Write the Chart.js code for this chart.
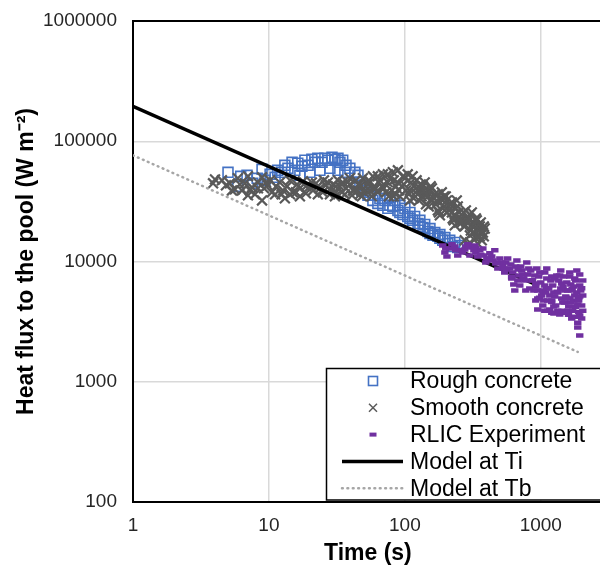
<!DOCTYPE html>
<html lang="en">
<head>
<meta charset="UTF-8">
<title>Heat flux to the pool</title>
<script src="https://cdn.jsdelivr.net/npm/chart.js"></script>
<style>
  html, body { margin: 0; padding: 0; background: #fff; overflow: hidden; }
  #wrap { width: 600px; height: 567px; overflow: hidden; }
</style>
</head>
<body>
<div id="wrap"><canvas id="fluxChart" width="612" height="567"></canvas></div>
<script>
  // tick values
  const xTicks = [1, 10, 100, 1000];
  const yTicks = [100, 1000, 10000, 100000, 1000000];

  // Rough concrete (time s, heat flux W m-2)
  const roughT = [5.0, 5.9, 6.2, 6.9, 7.6, 8.2, 8.9, 9.35, 10.2, 11.1, 11.6, 12.4, 13.1, 13.8, 14.8, 15.5, 16.3, 17.5, 18.4, 19.4,
    20.7, 21.8, 22.9, 24.6, 25.8, 27.1, 29.1, 30.6, 32.2, 33.3, 34.9, 36.9, 39.4, 42.9, 45.2, 46.7, 50.8, 50.8, 55.3, 60.2,
    65.5, 71.3, 77.6, 84.4, 91.9, 100, 109, 118, 129, 140, 153, 166, 181, 197, 214, 233, 254, 16.9, 20.0, 23.7,
    28.1, 32.2, 36.2, 77.6, 91.9, 109, 129, 153, 181,
    48.3, 53.5, 58.2, 63.3, 68.9, 75.0, 81.6, 88.9, 96.7, 105, 114, 125, 136, 148, 161, 175, 190, 207, 225, 245];
  const roughQ = [55200, 42200, 51100, 52100, 44700, 49200, 58400, 47300, 53100, 50100, 57300, 55200, 63100, 59600, 66800, 57300, 65600, 61900, 69500, 63100,
    70800, 66800, 72100, 66800, 72100, 69500, 73600, 70800, 72100, 66800, 69500, 63100, 59600, 55200, 52100, 45500, 43000, 40600, 37600, 35500,
    33500, 32200, 34100, 32200, 29300, 27700, 25600, 23700, 22000, 20300, 18800, 17400, 16800, 15800, 15000, 14400, 13600, 52100, 55200, 57300,
    59600, 57300, 55200, 29300, 25600, 22800, 19600, 17100, 15600,
    39000, 35500, 32200, 30400, 29300, 27700, 28700, 26600, 24600, 23700, 22000, 20700, 19200, 17800, 16500, 16200, 15000, 14100, 13300, 13100];

  // Smooth concrete
  const smoothT = [3.88, 4.01, 4.51, 4.83, 5.17, 5.62, 5.9, 6.33, 6.66, 7.01, 7.01, 7.5, 7.89, 8.3, 8.9, 8.9, 9.2, 9.8, 10.2, 10.5,
    11.3, 12.0, 12.7, 13.1, 13.6, 14.3, 15.0, 16.1, 16.9, 17.8, 18.7, 20.0, 21.1, 22.2, 23.7, 24.9, 26.2, 28.1, 29.6, 31.1,
    33.3, 34.9, 36.9, 39.4, 41.5, 43.6, 46.7, 49.1, 51.7, 55.3, 58.2, 61.2, 65.5, 68.9, 72.5, 77.6, 81.6, 85.9, 88.9, 91.9,
    96.7, 102, 105, 111, 116, 122, 129, 136, 143, 150, 158, 166, 175, 184, 194, 204, 214, 225, 237, 250,
    262, 276, 290, 306, 322, 338, 356, 368, 375, 84.4, 109, 140, 181, 233, 301, 344, 276,
    40.8, 45.1, 48.3, 53.5, 57.2, 63.3, 67.7, 75.0, 80.2, 88.9, 95.1, 100, 109, 114, 125, 133, 140, 148, 158, 169,
    175, 190, 200, 211, 222, 233, 245, 258, 272, 286, 301, 316, 333, 350, 362, 333, 301, 381, 381, 16.9,
    22.9, 30.6, 36.2, 14.3, 11.1, 18.7, 27.1, 32.2, 39.4,
    20.7, 22.9, 25.4, 28.1, 31.1, 34.4, 38.1, 42.2, 45.9, 50.0, 54.4, 59.1, 64.4, 70.1, 76.3, 83.0, 90.3, 98.4, 107, 116,
    127, 138, 150, 163, 178, 194, 211, 229, 250, 272, 296, 322, 350, 368, 5.35, 6.12, 7.25, 8.3, 9.5, 12.4,
    15.8,
    120, 131, 145, 155, 172, 187, 204, 222, 241, 262, 281, 311, 338, 356, 387, 83.0, 75.0, 63.3, 55.3, 46.7];
  const smoothQ = [44700, 48200, 47300, 43000, 44700, 39800, 49200, 39000, 44700, 51100, 35500, 41400, 36200, 45500, 50100, 32200, 40600, 43000, 47300, 37600,
    42200, 45500, 39000, 33500, 42200, 47300, 37600, 43800, 40600, 46400, 36900, 42200, 39000, 44700, 40600, 37600, 43000, 39800, 43800, 37600,
    42200, 45500, 40600, 43800, 39000, 47300, 42200, 49200, 39000, 45500, 51100, 40600, 47300, 53100, 37600, 49200, 55200, 42200, 57300, 34800,
    51100, 39000, 53100, 45500, 33500, 47300, 37600, 42200, 29900, 39000, 32200, 36200, 26600, 33500, 28700, 25600, 29900, 22800, 27700, 21100,
    24600, 19600, 22800, 18100, 21100, 16200, 19600, 15000, 17400, 36900, 32200, 35500, 24200, 20000, 16500, 14100, 15000,
    35500, 39000, 34800, 43800, 34800, 37600, 42200, 45500, 39000, 45500, 42200, 49200, 39000, 51100, 42200, 34800, 45500, 34800, 40600, 29900,
    36200, 32200, 34800, 26600, 31000, 24600, 28700, 22800, 25600, 21100, 24600, 19600, 22800, 18100, 21100, 15600, 14400, 16200, 19600, 34800,
    36200, 34800, 36200, 36200, 36200, 42200, 45500, 47300, 49200,
    45500, 42200, 47300, 36200, 42200, 37600, 45500, 39000, 43800, 37600, 47300, 40600, 45500, 40600, 34800, 47300, 39000, 43800, 36200, 42200,
    32200, 39000, 28700, 33500, 25600, 34800, 28700, 22000, 25600, 19600, 22800, 17400, 20300, 16800, 39000, 43800, 39000, 40600, 45500, 36200,
    37600,
    37600, 43800, 36200, 42200, 32200, 37600, 32200, 25600, 32200, 21100, 26600, 25600, 22000, 16200, 18800, 34800, 53100, 51100, 39000, 36200];

  // RLIC Experiment
  const rlicT = [190, 197, 214, 233, 254, 276, 290, 311, 333, 356, 381, 401, 422, 444, 467, 500, 526, 553, 592, 622,
    655, 689, 724, 763, 802, 830, 789, 644, 701, 903, 950, 1000, 1052, 1107, 1165, 1225, 1288, 1356, 1426, 1502,
    1580, 1663, 1750, 1841, 1935, 2000, 1871, 1690, 1380, 1125, 950, 1165, 1070, 1268, 1502, 1778, 1935, 2037, 1634, 1205,
    1426, 1871, 1935, 934, 1070, 1380, 1634, 1935, 980, 1040, 1100, 1200, 1320, 1460, 1560, 1700, 1800, 1900, 2000, 1250,
    1600, 1900, 870, 920, 560, 610, 740, 680, 420, 330,
    204, 222, 245, 267, 301, 327, 344, 375, 394, 436, 459, 483, 517, 543, 571, 612, 667, 678, 713, 750,
    776, 816, 859, 889, 919, 967, 1016, 1070, 1125, 1186, 1247, 1312, 1334, 1403, 1476, 1527, 1606, 1690, 1718, 1807,
    1901, 1968, 2037, 2037, 1807, 1527, 1247, 1035,
    919, 984, 1035, 1107, 1145, 1205, 1268, 1334, 1403, 1452, 1554, 1634, 1663, 1750, 1841, 1871, 1935, 2000, 1778, 1580,
    1426, 1205, 1089, 950, 200, 237, 281, 322, 362, 415, 475, 534, 602, 633, 737, 844];
  const rlicQ = [13600, 11900, 12800, 13300, 12400, 12600, 13900, 13100, 11900, 12400, 11200, 10600, 11700, 10200, 9630, 10600, 9260, 9810, 8740, 8100,
    9090, 7640, 8410, 6950, 7790, 5960, 9810, 5730, 6310, 7640, 5730, 6680, 4730, 7210, 5210, 6310, 4300, 6950, 4920, 5730,
    3900, 6430, 4730, 5520, 3550, 4300, 3100, 3350, 3620, 3900, 3980, 3980, 3900, 5110, 4550, 7210, 6310, 5210, 4920, 7500,
    6560, 2820, 2420, 8740, 8100, 7640, 7500, 7790, 5000, 5600, 6000, 4600, 5600, 6100, 5000, 5900, 4200, 5000, 6000, 3700,
    3600, 3800, 7000, 6200, 8600, 7400, 7200, 8600, 10400, 12900,
    11000, 13900, 11200, 11900, 11200, 13600, 11000, 12800, 9810, 11000, 12400, 8740, 9810, 8100, 10600, 7210, 10200, 6950, 9090, 7210,
    5730, 8740, 6950, 5730, 4730, 7500, 5210, 6310, 4730, 6950, 5520, 7640, 3900, 5960, 7500, 5110, 4220, 5730, 3900, 6950,
    4730, 5730, 3900, 6950, 3480, 3750, 4220, 4300,
    6560, 8100, 5730, 8740, 5960, 4730, 7210, 5520, 8410, 4550, 6680, 8100, 4550, 6190, 8410, 4380, 5110, 3350, 5210, 5730,
    3900, 3750, 5520, 4920, 12800, 12400, 13300, 12400, 11400, 10600, 9810, 8740, 9440, 6430, 7790, 8410];

  // model lines
  const modelTiT = [1, 880];
  const modelTiQ = [195000, 6570];
  const modelTbT = [1, 1870];
  const modelTbQ = [76400, 1770];

  const pts = (xs, ys) => xs.map((x, i) => ({ x: x, y: ys[i] }));
  const FONT = "'Liberation Sans', Arial, sans-serif";

  const frameAndLegend = {
    id: 'frameAndLegend',
    afterDraw(chart) {
      const { ctx, chartArea: a } = chart;
      ctx.save();
      ctx.strokeStyle = '#000';
      ctx.lineWidth = 2;
      ctx.beginPath();
      ctx.moveTo(a.left - 1, a.top);
      ctx.lineTo(a.right, a.top);
      ctx.stroke();

      // legend box
      const bx = 326.5, by = 368.5;
      ctx.fillStyle = '#fff';
      ctx.fillRect(bx, by, a.right - bx, a.bottom - 2 - by);
      ctx.lineWidth = 1.5;
      ctx.strokeRect(bx, by, a.right - bx, a.bottom - 2 - by);

      const order = [4, 3, 0, 1, 2];
      const mx = 373;
      ctx.font = '23px ' + FONT;
      ctx.textBaseline = 'middle';
      order.forEach((di, row) => {
        const ds = chart.data.datasets[di];
        const y = 381 + row * 26.8;
        ctx.save();
        ctx.strokeStyle = ds.borderColor;
        ctx.fillStyle = ds.borderColor;
        if (ds.pointStyle === 'rect') {
          ctx.lineWidth = 1.6;
          ctx.strokeRect(mx - 4.5, y - 4.5, 9, 9);
        } else if (ds.pointStyle === 'crossRot') {
          ctx.lineWidth = 1.5;
          ctx.beginPath();
          ctx.moveTo(mx - 4, y - 4); ctx.lineTo(mx + 4, y + 4);
          ctx.moveTo(mx - 4, y + 4); ctx.lineTo(mx + 4, y - 4);
          ctx.stroke();
        } else if (ds.pointStyle === 'line') {
          ctx.fillRect(mx - 3.5, y - 2, 7, 4);
        } else {
          ctx.lineWidth = ds.borderWidth;
          ctx.lineCap = ds.borderCapStyle || 'butt';
          ctx.setLineDash(ds.borderDash || []);
          ctx.beginPath();
          ctx.moveTo(342, y); ctx.lineTo(403, y);
          ctx.stroke();
        }
        ctx.restore();
        ctx.fillStyle = '#000';
        ctx.fillText(ds.label, 410, y + 1);
      });
      ctx.restore();
    }
  };

  new Chart(document.getElementById('fluxChart'), {
    type: 'scatter',
    data: {
      datasets: [
        {
          label: 'RLIC Experiment', order: 1,
          data: pts(rlicT, rlicQ),
          pointStyle: 'line', pointRadius: 3.7, borderWidth: 4.5,
          borderColor: '#7030A0', backgroundColor: '#7030A0'
        },
        {
          label: 'Model at Ti', order: 2,
          data: pts(modelTiT, modelTiQ),
          showLine: true, pointRadius: 0, borderWidth: 3.5,
          borderColor: '#000000'
        },
        {
          label: 'Model at Tb', order: 3,
          data: pts(modelTbT, modelTbQ),
          showLine: true, pointRadius: 0, borderWidth: 2.5,
          borderDash: [0.8, 4.6], borderCapStyle: 'round',
          borderColor: '#a6a6a6'
        },
        {
          label: 'Smooth concrete', order: 4,
          data: pts(smoothT, smoothQ),
          pointStyle: 'crossRot', pointRadius: 7, borderWidth: 2.2,
          borderColor: '#595959', backgroundColor: '#595959'
        },
        {
          label: 'Rough concrete', order: 5,
          data: pts(roughT, roughQ),
          pointStyle: 'rect', pointRadius: 7, borderWidth: 1.6,
          borderColor: '#4472C4', backgroundColor: 'rgba(0,0,0,0)'
        }
      ]
    },
    options: {
      responsive: false,
      animation: false,
      devicePixelRatio: 1,
      layout: { padding: { top: 21, right: 3, left: 0, bottom: 0 } },
      plugins: { legend: { display: false }, tooltip: { enabled: false } },
      scales: {
        x: {
          type: 'logarithmic', min: 1, max: 2860,
          afterBuildTicks: s => { s.ticks = xTicks.map(v => ({ value: v })); },
          afterFit: s => { s.height = 65; s.paddingLeft = 0; s.paddingRight = 0; },
          ticks: { callback: v => String(v), font: { family: FONT, size: 19 }, color: '#262626', padding: 12, maxRotation: 0, autoSkip: false },
          grid: { color: '#d9d9d9', lineWidth: 1.5, drawTicks: false },
          border: { color: '#000', width: 2 },
          title: { display: true, text: 'Time (s)', font: { family: FONT, size: 23, weight: 'bold' }, color: '#000', padding: { top: 0, bottom: 0 } }
        },
        y: {
          type: 'logarithmic', min: 100, max: 1000000,
          afterBuildTicks: s => { s.ticks = yTicks.map(v => ({ value: v })); },
          afterFit: s => { s.width = 133; s.paddingTop = 0; s.paddingBottom = 0; },
          ticks: { callback: v => String(v), font: { family: FONT, size: 19 }, color: '#262626', padding: 16, autoSkip: false },
          grid: { color: '#d9d9d9', lineWidth: 1.5, drawTicks: false },
          border: { color: '#000', width: 2 },
          title: { display: true, text: 'Heat flux to the pool (W m\u207B\u00B2)', font: { family: FONT, size: 23, weight: 'bold' }, color: '#000', padding: { top: 13, bottom: 0 } }
        }
      }
    },
    plugins: [frameAndLegend]
  });
</script>
</body>
</html>
